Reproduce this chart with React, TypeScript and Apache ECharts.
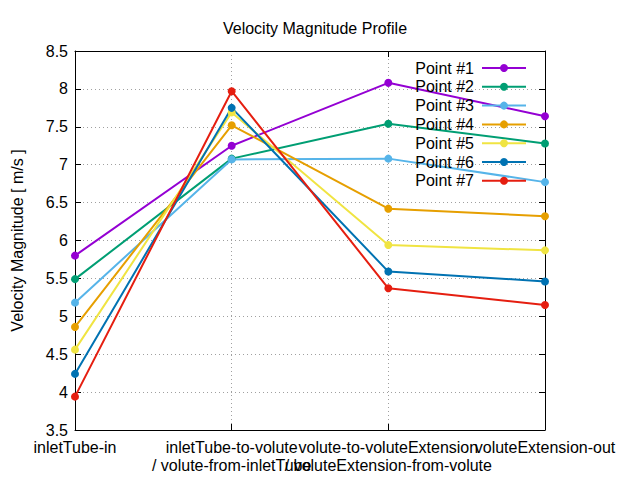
import React, { useEffect, useRef } from "react";
import * as echarts from "echarts";

const categories = [
  "inletTube-in",
  "inletTube-to-volute\n/ volute-from-inletTube",
  "volute-to-voluteExtension\n/ voluteExtension-from-volute",
  "voluteExtension-out",
];

const seriesNames = ["Point #1", "Point #2", "Point #3", "Point #4", "Point #5", "Point #6", "Point #7"];

const point1 = [5.8, 7.25, 8.08, 7.64];
const point2 = [5.49, 7.08, 7.54, 7.28];
const point3 = [5.18, 7.07, 7.08, 6.77];
const point4 = [4.86, 7.52, 6.42, 6.32];
const point5 = [4.56, 7.69, 5.94, 5.87];
const point6 = [4.24, 7.75, 5.59, 5.46];
const point7 = [3.94, 7.97, 5.37, 5.15];

const seriesValues = [point1, point2, point3, point4, point5, point6, point7];
const colors = ["#9400d3", "#009e73", "#56b4e9", "#e69f00", "#f0e442", "#0072b2", "#e51e10"];

const FONT = "Liberation Sans, Arial, sans-serif";
const FS = 16;

export default function App() {
  const ref = useRef<HTMLDivElement>(null);
  useEffect(() => {
    if (!ref.current) return;
    const chart = echarts.init(ref.current, undefined, { renderer: "svg" });
    const gridLine = { show: true, lineStyle: { color: "#a0a0a0", type: [1, 3] as any, width: 1 } };
    chart.setOption({
      animation: false,
      backgroundColor: "#ffffff",
      textStyle: { fontFamily: FONT },
      title: {
        text: "Velocity Magnitude Profile",
        left: 310,
        textAlign: "center",
        top: 15,
        textStyle: { fontFamily: FONT, fontSize: FS, fontWeight: "normal", color: "#000" },
      },
      legend: {
        orient: "vertical",
        right: 108,
        top: 55,
        align: "right",
        itemWidth: 44,
        itemHeight: 10,
        itemGap: 2.8,
        data: seriesNames,
        textStyle: { fontFamily: FONT, fontSize: FS, color: "#000", lineHeight: 14, padding: [0, 3, 0, 0] },
      },
      grid: { left: 75, right: 95, top: 51, bottom: 50 },
      xAxis: [
        {
          type: "category",
          data: categories,
          boundaryGap: false,
          position: "bottom",
          axisLine: { show: true, lineStyle: { color: "#000", width: 1 } },
          axisTick: { show: true, inside: true, length: 6, alignWithLabel: true, lineStyle: { color: "#000" } },
          axisLabel: {
            interval: 0,
            hideOverlap: false,
            fontFamily: FONT,
            fontSize: FS,
            color: "#000",
            margin: 8,
            lineHeight: 18,
          },
          splitLine: gridLine,
        },
        {
          type: "category",
          data: categories,
          boundaryGap: false,
          position: "top",
          axisLine: { show: true, lineStyle: { color: "#000", width: 1 } },
          axisTick: { show: true, inside: true, length: 6, lineStyle: { color: "#000" } },
          axisLabel: { show: false },
          splitLine: { show: false },
        },
      ],
      yAxis: [
        {
          type: "value",
          min: 3.5,
          max: 8.5,
          interval: 0.5,
          position: "left",
          name: "Velocity Magnitude [ m/s ]",
          nameLocation: "middle",
          nameGap: 50,
          nameTextStyle: { fontFamily: FONT, fontSize: FS, color: "#000" },
          axisLine: { show: true, lineStyle: { color: "#000", width: 1 } },
          axisTick: { show: true, inside: true, length: 6, lineStyle: { color: "#000" } },
          axisLabel: { fontFamily: FONT, fontSize: FS, color: "#000", margin: 7 },
          splitLine: gridLine,
        },
        {
          type: "value",
          min: 3.5,
          max: 8.5,
          interval: 0.5,
          position: "right",
          axisLine: { show: true, lineStyle: { color: "#000", width: 1 } },
          axisTick: { show: true, inside: true, length: 6, lineStyle: { color: "#000" } },
          axisLabel: { show: false },
          splitLine: { show: false },
        },
      ],
      series: seriesNames.map((name, i) => ({
        name,
        type: "line",
        data: seriesValues[i],
        xAxisIndex: 0,
        yAxisIndex: 0,
        symbol: "circle",
        symbolSize: 8,
        color: colors[i],
        lineStyle: { width: 2, color: colors[i] },
        itemStyle: { color: colors[i] },
      })),
    });
    return () => chart.dispose();
  }, []);
  return <div ref={ref} style={{ width: 640, height: 480, position: "absolute", left: 0, top: 0 }} />;
}
